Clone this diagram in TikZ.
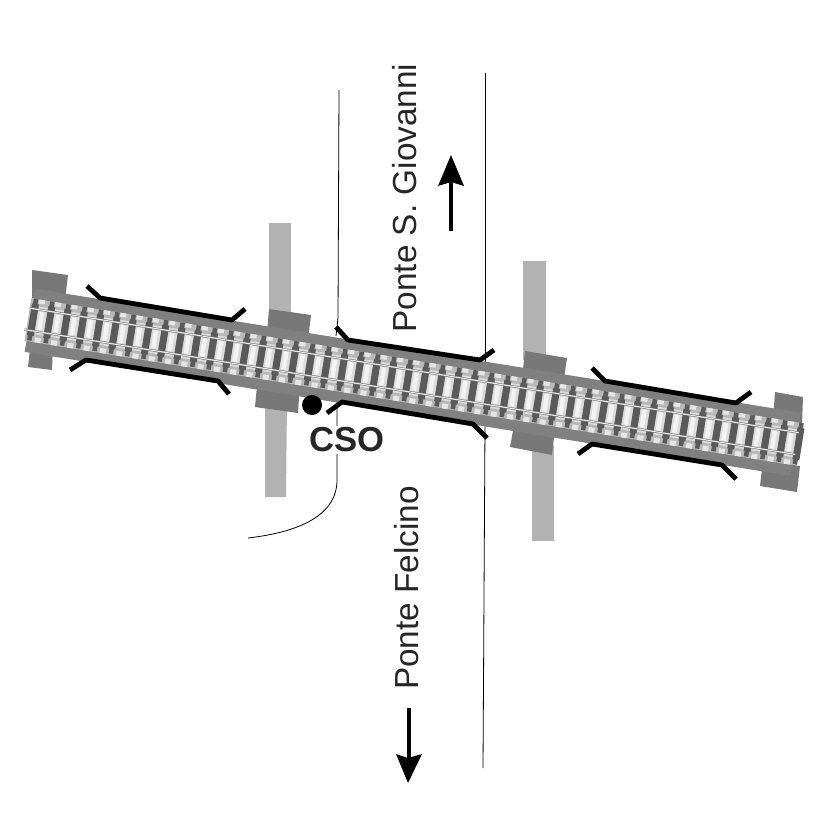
\documentclass[tikz,border=0pt]{standalone}
\usepackage{fontspec}
\setmainfont{Liberation Sans}
\usepackage{xcolor}
\usetikzlibrary{calc}
\definecolor{deckgray}{HTML}{808080}
\definecolor{piergray}{HTML}{787878}
\definecolor{columngray}{HTML}{B2B2B2}
\definecolor{sleepergray}{HTML}{5A5A5A}
\definecolor{ballastgray}{HTML}{B8B8B8}
\tikzset{
    wall/.style={line width=3.6pt, line join=round},
    riverbank/.style={line width=0.6pt},
    flow/.style={line width=2.8pt},
    flowhead/.style={fill=black},
    placename/.style={rotate=90, font=\fontsize{25}{25}\selectfont, text=black!85, inner sep=0pt},
    sleeper/.style={fill=sleepergray},
    gapmid/.style={fill=black!14},
    gaplight/.style={fill=black!5},
    rim/.style={fill=black!10},
    rail/.style={draw=white!92!black, line width=0.8pt}
}
\begin{document}
\begin{tikzpicture}[x=0.75pt, y=-0.75pt]
        \useasboundingbox (0,0) rectangle (827,827);

        \fill [columngray] (269,223) -- (291,223) -- (291,320) -- (269,320) -- cycle;
        \fill [columngray] (265,400) -- (287,400) -- (286,497) -- (265,497) -- cycle;
        \fill [columngray] (523,261) -- (546,261) -- (546,360) -- (523,360) -- cycle;
        \fill [columngray] (532,445) -- (554,445) -- (554,541) -- (532,541) -- cycle;

        \draw [riverbank] (339,90) -- (338,318) -- (336,336);
        \draw [riverbank] (485,73) -- (485,362);
        \draw [riverbank] (337,400) -- (337,480) .. controls (337,515) and (300,532) .. (248,538);
        \draw [riverbank] (485,425) -- (483,768);

        \fill [piergray] (32,270) -- (68,275) -- (65,300) -- (32,298) -- cycle;
        \fill [piergray] (31,340) -- (53,345) -- (52,370) -- (28,367) -- cycle;
        \fill [piergray] (269,309) -- (311,315) -- (308,340) -- (267,333) -- cycle;
        \fill [piergray] (258,375) -- (300,383) -- (298,413) -- (255,407) -- cycle;
        \fill [piergray] (525,351) -- (567,358) -- (563,385) -- (522,378) -- cycle;
        \fill [piergray] (515,420) -- (555,428) -- (552,455) -- (510,447) -- cycle;
        \fill [piergray] (775,392) -- (803,397) -- (802,425) -- (773,420) -- cycle;
        \fill [piergray] (763,460) -- (800,466) -- (797,492) -- (760,486) -- cycle;

        \begin{scope}[shift={(28,319)}, rotate=-9.2]
            \fill [deckgray] (2,-31) rectangle (778,33);
            \fill [ballastgray] (0,-21) rectangle (779,22);
            \foreach \s in {0,...,46} {
                \fill [gapmid] ({8.5+16.5*\s},-14) rectangle ({18+16.5*\s},14);
                \fill [gaplight] ({10.5+16.5*\s},-9) rectangle ({15+16.5*\s},9);
                \fill [rim] ({8+16.5*\s},-21) rectangle ({14+16.5*\s},-17);
                \fill [rim] ({10+16.5*\s},17) rectangle ({16+16.5*\s},22);
            }
            \foreach \s in {0,...,47} {
                \fill [sleeper] ({5+16.5*\s-3.5},-16) rectangle ({5+16.5*\s+3.5},16);
                \fill [sleeper] ({5+16.5*\s-2.5},-21) rectangle ({5+16.5*\s+2},21);
            }
            \draw [black!55, line width=1.6pt] (0,-11) -- (779,-11);
            \draw [black!55, line width=1.6pt] (-2,11) -- (779,11);
            \draw [rail] (0,-11) -- (779,-11);
            \draw [rail] (-2,11) -- (779,11);
        \end{scope}

        \draw [wall] (87,286) -- (100,298) -- (232,320) -- (245,309);
        \draw [wall] (70,370) -- (86,360) -- (218,381) -- (229,394);
        \draw [wall] (336,327) -- (348,340) -- (480,360) -- (494,350);
        \draw [wall] (327,413) -- (342,402) -- (473,424) -- (487,438);
        \draw [wall] (592,368) -- (605,381) -- (736,403) -- (751,392);
        \draw [wall] (578,454) -- (592,444) -- (722,465) -- (736,479);

        \node [circle, fill=black, minimum size=15pt, inner sep=0pt] (cso) at (312,405) {};
        \node [fill=white, inner sep=1pt, font=\bfseries\fontsize{26}{26}\selectfont, text=black!85] (csolabel) at (347,440) {CSO};

        \node [placename] (giovanni) at (405,198) {Ponte S. Giovanni};
        \node [placename] (felcino) at (407,588) {Ponte Felcino};

        \coordinate (upstart) at (451,231);
        \coordinate (upend) at (451,180);
        \coordinate (downstart) at (409,708);
        \coordinate (downend) at (409,760);
        \draw [flow] (upstart) -- (upend);
        \draw [flow] (downstart) -- (downend);
        \fill [flowhead] (438,186) -- (451,155) -- (464,186) -- (451,182) -- cycle;
        \fill [flowhead] (396,754) -- (408,783) -- (422,754) -- (408,758) -- cycle;
    \end{tikzpicture}
\end{document}
